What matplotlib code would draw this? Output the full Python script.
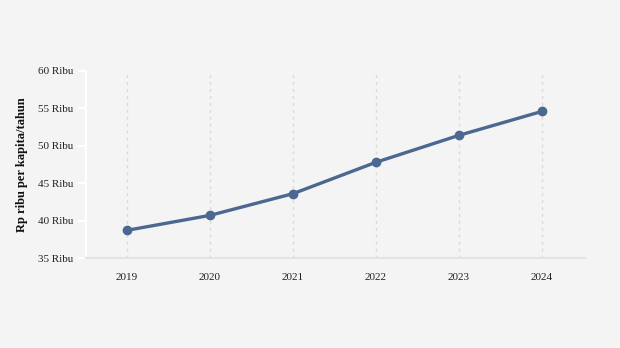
import matplotlib
matplotlib.use("Agg")
import matplotlib.pyplot as plt

years = ["2019", "2020", "2021", "2022", "2023", "2024"]
values = [38.7, 40.7, 43.6, 47.8, 51.4, 54.6]  # Rp ribu per kapita/tahun
y_ticks = [35, 40, 45, 50, 55, 60]
y_labels = [f"{v} Ribu" for v in y_ticks]

plt.rcParams["font.family"] = ["Liberation Serif", "DejaVu Serif"]

bg = "#f4f4f4"
fig = plt.figure(figsize=(6.2, 3.48), dpi=100, facecolor=bg)
ax = fig.add_axes([86 / 620, 1 - 258 / 348, (585 - 86) / 620, (258 - 71) / 348])
ax.set_facecolor(bg)

x = list(range(len(years)))
ax.plot(x, values, color="#4b6890", linewidth=2.4, marker="o", markersize=6,
        zorder=3, solid_capstyle="round")

ax.set_xlim(-0.494, 5.518)
ax.set_ylim(35, 60)
ax.set_xticks(x)
ax.set_xticklabels(years, fontsize=8, color="#222222")
ax.set_yticks(y_ticks)
ax.set_yticklabels(y_labels, fontsize=8, color="#222222")

ax.grid(axis="x", color="#d9d9d9", linestyle=(0, (2, 3)), linewidth=1)
ax.grid(axis="y", visible=False)

for s in ["top", "right"]:
    ax.spines[s].set_visible(False)
ax.spines["left"].set_color("white")
ax.spines["left"].set_linewidth(1.5)
ax.spines["bottom"].set_color("#e3e3e3")
ax.spines["bottom"].set_linewidth(1.5)

ax.tick_params(axis="y", length=6, color="white", width=1.5, pad=3)
ax.tick_params(axis="x", length=0, pad=11)

ax.set_ylabel("Rp ribu per kapita/tahun", fontsize=9, fontweight="bold",
              color="#111111", labelpad=7)

fig.savefig("out.png", dpi=100, facecolor=bg)
